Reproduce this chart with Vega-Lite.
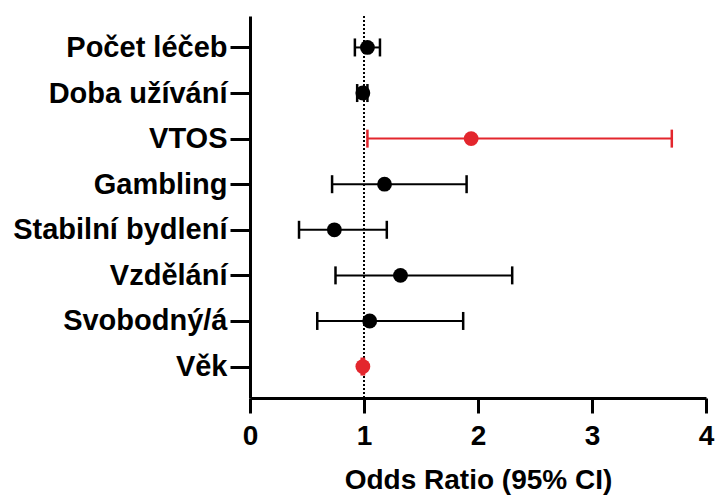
{
  "$schema": "https://vega.github.io/schema/vega-lite/v6.json",
  "width": 456,
  "height": 382,
  "autosize": "none",
  "padding": {"left": 250, "top": 16, "right": 10, "bottom": 100},
  "background": "white",
  "config": {
    "view": {"stroke": null},
    "font": "Liberation Sans",
    "axis": {
      "domainColor": "black",
      "domainWidth": 3,
      "tickColor": "black",
      "tickWidth": 3,
      "labelColor": "black",
      "labelFont": "Liberation Sans",
      "labelFontWeight": "bold",
      "titleFont": "Liberation Sans",
      "titleFontWeight": "bold",
      "titleColor": "black",
      "grid": false,
      "labelLimit": 0
    }
  },
  "data": {
    "values": [
      {"label": "Počet léčeb", "or": 1.03, "lo": 0.92, "hi": 1.14, "sig": "ns"},
      {"label": "Doba užívání", "or": 0.99, "lo": 0.94, "hi": 1.03, "sig": "ns"},
      {"label": "VTOS", "or": 1.94, "lo": 1.03, "hi": 3.70, "sig": "sig"},
      {"label": "Gambling", "or": 1.18, "lo": 0.72, "hi": 1.90, "sig": "ns"},
      {"label": "Stabilní bydlení", "or": 0.74, "lo": 0.43, "hi": 1.20, "sig": "ns"},
      {"label": "Vzdělání", "or": 1.32, "lo": 0.75, "hi": 2.30, "sig": "ns"},
      {"label": "Svobodný/á", "or": 1.05, "lo": 0.59, "hi": 1.87, "sig": "ns"},
      {"label": "Věk", "or": 0.99, "lo": 0.98, "hi": 1.00, "sig": "sig"}
    ]
  },
  "layer": [
    {
      "mark": {"type": "rule", "strokeWidth": 2},
      "encoding": {
        "y": {
          "field": "label",
          "type": "nominal",
          "sort": null,
          "scale": {"type": "point", "padding": 0.69},
          "axis": {
            "title": null,
            "labelFontSize": 29,
            "tickSize": 20,
            "labelPadding": 3,
            "labelLimit": 0
          }
        },
        "color": {
          "field": "sig",
          "type": "nominal",
          "scale": {"domain": ["ns", "sig"], "range": ["black", "#e3262d"]},
          "legend": null
        },
        "x": {
          "field": "lo",
          "type": "quantitative",
          "scale": {"domain": [0, 4], "nice": false, "zero": true},
          "axis": {
            "values": [0, 1, 2, 3, 4],
            "title": "Odds Ratio (95% CI)",
            "titleFontSize": 28,
            "labelFontSize": 28,
            "tickSize": 15,
            "labelPadding": 9,
            "titlePadding": 16,
            "labelFlush": false,
            "format": "d"
          }
        },
        "x2": {"field": "hi"}
      }
    },
    {
      "mark": {"type": "rule", "color": "black", "strokeWidth": 1.6, "strokeDash": [2, 2]},
      "encoding": {"x": {"datum": 1}}
    },
    {
      "mark": {"type": "tick", "thickness": 2.5, "size": 18, "opacity": 1},
      "encoding": {
        "y": {"field": "label", "type": "nominal", "sort": null},
        "color": {"field": "sig", "type": "nominal"},
        "x": {"field": "lo", "type": "quantitative"}
      }
    },
    {
      "mark": {"type": "tick", "thickness": 2.5, "size": 18, "opacity": 1},
      "encoding": {
        "y": {"field": "label", "type": "nominal", "sort": null},
        "color": {"field": "sig", "type": "nominal"},
        "x": {"field": "hi", "type": "quantitative"}
      }
    },
    {
      "mark": {"type": "circle", "size": 220, "opacity": 1},
      "encoding": {
        "y": {"field": "label", "type": "nominal", "sort": null},
        "color": {"field": "sig", "type": "nominal"},
        "x": {"field": "or", "type": "quantitative"}
      }
    }
  ]
}
